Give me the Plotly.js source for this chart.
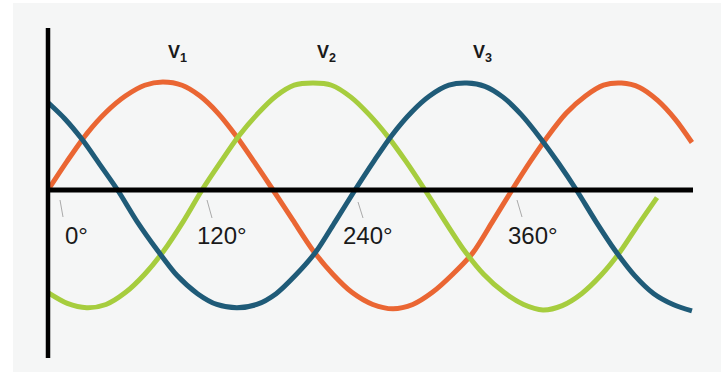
<!DOCTYPE html>
<html>
<head>
<meta charset="utf-8">
<script src="https://cdn.plot.ly/plotly-3.0.1.min.js"></script>
<style>html,body{margin:0;padding:0;background:#fff;}#chart{width:721px;height:372px;}</style>
</head>
<body>
<div id="chart"></div>
<script>
// Phase angle (degrees) and relative amplitude
const v1Deg = [0, 15, 30, 45, 60, 75, 89, 104, 118, 132, 146, 160, 174.6, 190, 205, 221, 236, 252, 267.7, 283, 298, 314, 329.7, 345, 360, 374, 388, 402, 417, 431, 445, 459, 473, 487, 499.6];
const v1Val = [0, 0.27, 0.52, 0.72, 0.87, 0.97, 1.0, 0.97, 0.87, 0.71, 0.5, 0.26, 0, -0.28, -0.55, -0.78, -0.95, -1.06, -1.10, -1.06, -0.95, -0.78, -0.58, -0.29, 0, 0.26, 0.5, 0.71, 0.87, 0.97, 0.99, 0.95, 0.83, 0.65, 0.44];

const v2Deg = [0, 15, 30, 45, 60, 75, 90, 105, 119.5, 134, 148, 163, 177, 191, 205.6, 220, 235, 249, 264, 278, 292.5, 308, 323, 338, 354, 369, 384, 399, 414, 429, 444, 458, 472.5];
const v2Val = [-0.95, -1.05, -1.09, -1.06, -0.95, -0.78, -0.56, -0.29, 0, 0.26, 0.5, 0.71, 0.87, 0.97, 0.99, 0.97, 0.86, 0.7, 0.49, 0.26, 0, -0.29, -0.56, -0.78, -0.95, -1.06, -1.11, -1.07, -0.96, -0.79, -0.57, -0.32, -0.07];

const v3Deg = [0, 13, 27, 40, 54, 69, 85, 100, 116, 131, 146.6, 162, 177, 192, 208, 223, 238.2, 253, 267, 282, 296, 311, 325, 339, 353, 367, 382, 396, 410, 425, 440, 455, 470, 485, 499.6];
const v3Val = [0.81, 0.66, 0.46, 0.24, 0, -0.29, -0.56, -0.79, -0.96, -1.06, -1.09, -1.06, -0.96, -0.79, -0.57, -0.29, 0, 0.27, 0.51, 0.72, 0.87, 0.97, 0.99, 0.96, 0.86, 0.7, 0.48, 0.25, 0, -0.29, -0.56, -0.79, -0.96, -1.06, -1.12];

const seriesNames = ["V<sub>1</sub>", "V<sub>2</sub>", "V<sub>3</sub>"];
const tickDeg = [0, 120, 240, 360];
const tickLabels = ["0°", "120°", "240°", "360°"];

// pixel <-> data helpers (layout only)
const PX0 = 48, PXPD = 1.2889, PY0 = 190, PYPU = 108;
const dx = px => (px - PX0) / PXPD;
const dy = py => (PY0 - py) / PYPU;

const colors = ["#ea6633", "#a6cd3e", "#1f5b78"];
const traces = [[v1Deg, v1Val], [v2Deg, v2Val], [v3Deg, v3Val]].map((d, i) => ({
  x: d[0], y: d[1], type: "scatter", mode: "lines",
  line: {color: colors[i], width: 5, shape: "spline", smoothing: 0.8},
  hoverinfo: "skip", showlegend: false
}));

const nameX = [177, 326, 482];
const annotations = [];
seriesNames.forEach((n, i) => annotations.push({
  x: dx(nameX[i]), y: dy(53), xref: "x", yref: "y", text: "<b>" + n + "</b>", showarrow: false,
  font: {family: "Liberation Sans, Arial, sans-serif", size: 18, color: "#1a1a1a"}
}));
const labelPx = [76, 222, 368, 533];
const leaderTop = [[60, 200], [207, 200], [358, 202], [517, 200]];
const leaderBot = [[63, 217], [212, 218], [363, 218], [522, 217]];
tickLabels.forEach((t, i) => annotations.push({
  x: dx(labelPx[i]), y: dy(235), xref: "x", yref: "y", text: t, showarrow: false,
  font: {family: "Liberation Sans, Arial, sans-serif", size: 24, color: "#1a1a1a"}
}));

const shapes = [
  {type: "line", xref: "x", yref: "y", x0: 0, x1: 0, y0: dy(28), y1: dy(358), line: {color: "#000", width: 4.5}, layer: "above"},
  {type: "line", xref: "x", yref: "y", x0: 0, x1: dx(693), y0: 0, y1: 0, line: {color: "#000", width: 5}, layer: "above"}
];
tickDeg.forEach((d, i) => shapes.push({
  type: "line", xref: "x", yref: "y",
  x0: dx(leaderTop[i][0]), y0: dy(leaderTop[i][1]), x1: dx(leaderBot[i][0]), y1: dy(leaderBot[i][1]),
  line: {color: "#aaaaaa", width: 1}
}));

const layout = {
  width: 721, height: 372,
  margin: {l: 13, r: 0, t: 3, b: 0, pad: 0},
  paper_bgcolor: "#ffffff", plot_bgcolor: "#f5f6f6",
  xaxis: {range: [dx(13), dx(721)], visible: false, fixedrange: true},
  yaxis: {range: [dy(372), dy(3)], visible: false, fixedrange: true},
  annotations: annotations, shapes: shapes, showlegend: false
};
Plotly.newPlot("chart", traces, layout, {displayModeBar: false, staticPlot: true});
</script>
</body>
</html>
